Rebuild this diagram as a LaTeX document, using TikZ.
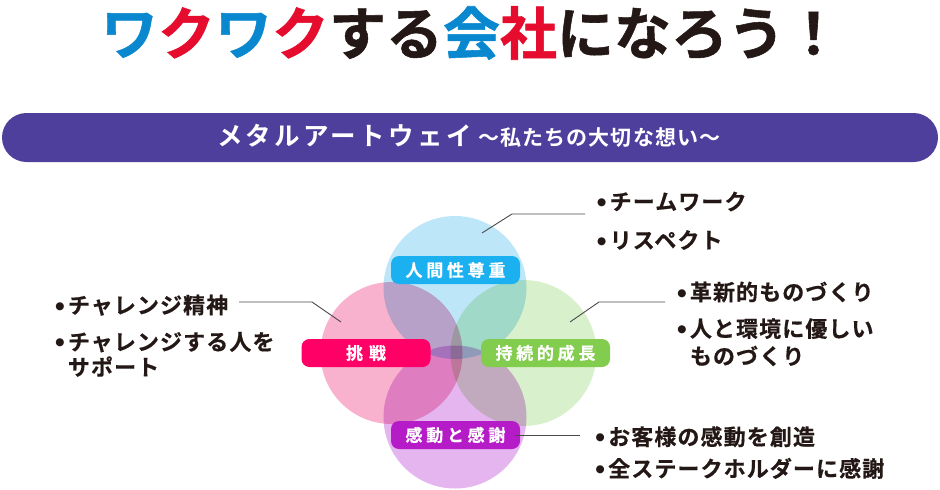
\documentclass[tikz,border=0pt]{standalone}
\usepackage{fontspec}
\setmainfont{Noto Sans CJK JP}[BoldFont={* Bold}]
\newfontfamily\titlefam{Noto Sans CJK JP Bold}[FakeBold=1]
\newfontfamily\bannerfam{Noto Sans CJK JP Bold}
\newfontfamily\itemfam{Noto Sans CJK JP Bold}[LetterSpace=5,FakeBold=0.5]
\newfontfamily\pillfam{Noto Sans CJK JP Bold}[LetterSpace=22,FakeBold=0.3]
\newfontfamily\bulfam{DejaVu Sans}
\definecolor{tblue}{HTML}{0A88CF}
\definecolor{tred}{HTML}{E60C2E}
\definecolor{ink}{HTML}{231815}
\definecolor{bannerc}{HTML}{4E3F9C}
\definecolor{ctop}{HTML}{BDE7F9}
\definecolor{cleft}{HTML}{F9B2CE}
\definecolor{cright}{HTML}{D9F0CC}
\definecolor{cbottom}{HTML}{E4B5EE}
\definecolor{pblue}{HTML}{1BB0F0}
\definecolor{ppink}{HTML}{FF0066}
\definecolor{pgreen}{HTML}{82CC4E}
\definecolor{ppurple}{HTML}{B61BC8}
\definecolor{linegray}{HTML}{4A4A4A}
\newcommand{\bulmark}{\makebox[14pt][l]{\hspace{1.5pt}\raisebox{4.4pt}{\bulfam\fontsize{10.5}{11}\selectfont ●}}}
\begin{document}
\begin{tikzpicture}[x=1pt,y=-1pt,
  disc/.style={circle, inner sep=0pt, minimum size=#1, draw=none},
  pill/.style={rounded corners=8pt, minimum width=129pt, minimum height=28pt, inner sep=0pt, text=white, font=\pillfam\fontsize{17}{17}\selectfont},
  item/.style={anchor=west, inner sep=0pt, text=ink, font=\itemfam\fontsize{22}{22}\selectfont, text height=19.4pt, text depth=2.6pt},
  conn/.style={draw=linegray, line width=0.9pt}]
\useasboundingbox (0,0) rectangle (940,490);

% title
\node[font=\titlefam\fontsize{57}{57}\selectfont, text=ink, inner sep=0pt] (title) at (471.5,33)
  {\textcolor{tblue}{ワ}\textcolor{tred}{ク}\textcolor{tblue}{ワ}\textcolor{tred}{ク}する\textcolor{tblue}{会}\textcolor{tred}{社}になろう！};

% banner
\node[fill=bannerc, rounded corners=24.5pt, minimum width=936pt, minimum height=49pt, inner sep=0pt] (banner) at (470,137.5) {};
\node[text=white, font=\bannerfam, inner sep=0pt, anchor=west, text height=20pt, text depth=3pt] (bannertext) at (217,137)
  {{\fontsize{25.5}{26}\selectfont\addfontfeature{LetterSpace=13}メタルアートウェイ}\hspace{7pt}{\fontsize{21}{21}\selectfont\addfontfeature{LetterSpace=5}～私たちの大切な想い～}};

% circles
\begin{scope}[blend group=multiply]
  \node[disc=143pt, fill=ctop] (ctopc) at (455,287.5) {};
  \node[disc=142pt, fill=cleft] (cleftc) at (391.5,353) {};
  \node[disc=146pt, fill=cright] (crightc) at (523.5,353) {};
  \node[disc=143pt, fill=cbottom] (cbottomc) at (455,417) {};
\end{scope}

% pills
\node[pill, fill=pblue] (respect) at (455.5,270) {人間性尊重};
\node[pill, fill=ppink] (challenge) at (366,353) {挑\hspace{6pt}戦};
\node[pill, fill=pgreen] (growth) at (545.5,353) {持続的成長};
\node[pill, fill=ppurple] (thanks) at (455.5,435) {感動と感謝};

% items
\node[item] (tw1) at (595.5,201.5) {\bulmark チームワーク};
\node[item] (tw2) at (595.5,240) {\bulmark リスペクト};
\node[item] (ch1) at (53.7,305) {\bulmark チャレンジ精神};
\node[item] (ch2) at (53.7,341.7) {\bulmark チャレンジする人を};
\node[item] (ch3) at (67.7,367) {サポート};
\node[item] (gr1) at (675.7,292) {\bulmark 革新的ものづくり};
\node[item] (gr2) at (675.7,328.5) {\bulmark 人と環境に優しい};
\node[item] (gr3) at (689.7,356) {ものづくり};
\node[item] (ks1) at (594,436.7) {\bulmark お客様の感動を創造};
\node[item] (ks2) at (594,468.5) {\bulmark 全ステークホルダーに感謝};

% connectors
\coordinate (tpin) at (482,233);
\coordinate (tbend) at (512,214);
\coordinate (tend) at (585,214);
\draw[conn] (tpin) -- (tbend) -- (tend);

\coordinate (lend) at (239,302);
\coordinate (lbend) at (312,302);
\coordinate (lpin) at (341,322);
\draw[conn] (lend) -- (lbend) -- (lpin);

\coordinate (rend) at (665,302);
\coordinate (rbend) at (599,302);
\coordinate (rpin) at (570,322);
\draw[conn] (rend) -- (rbend) -- (rpin);

\coordinate (bstart) at ([xshift=-5pt]thanks.east);
\coordinate (bend) at (580,435);
\draw[conn] (bstart) -- (bend);
\end{tikzpicture}
\end{document}
